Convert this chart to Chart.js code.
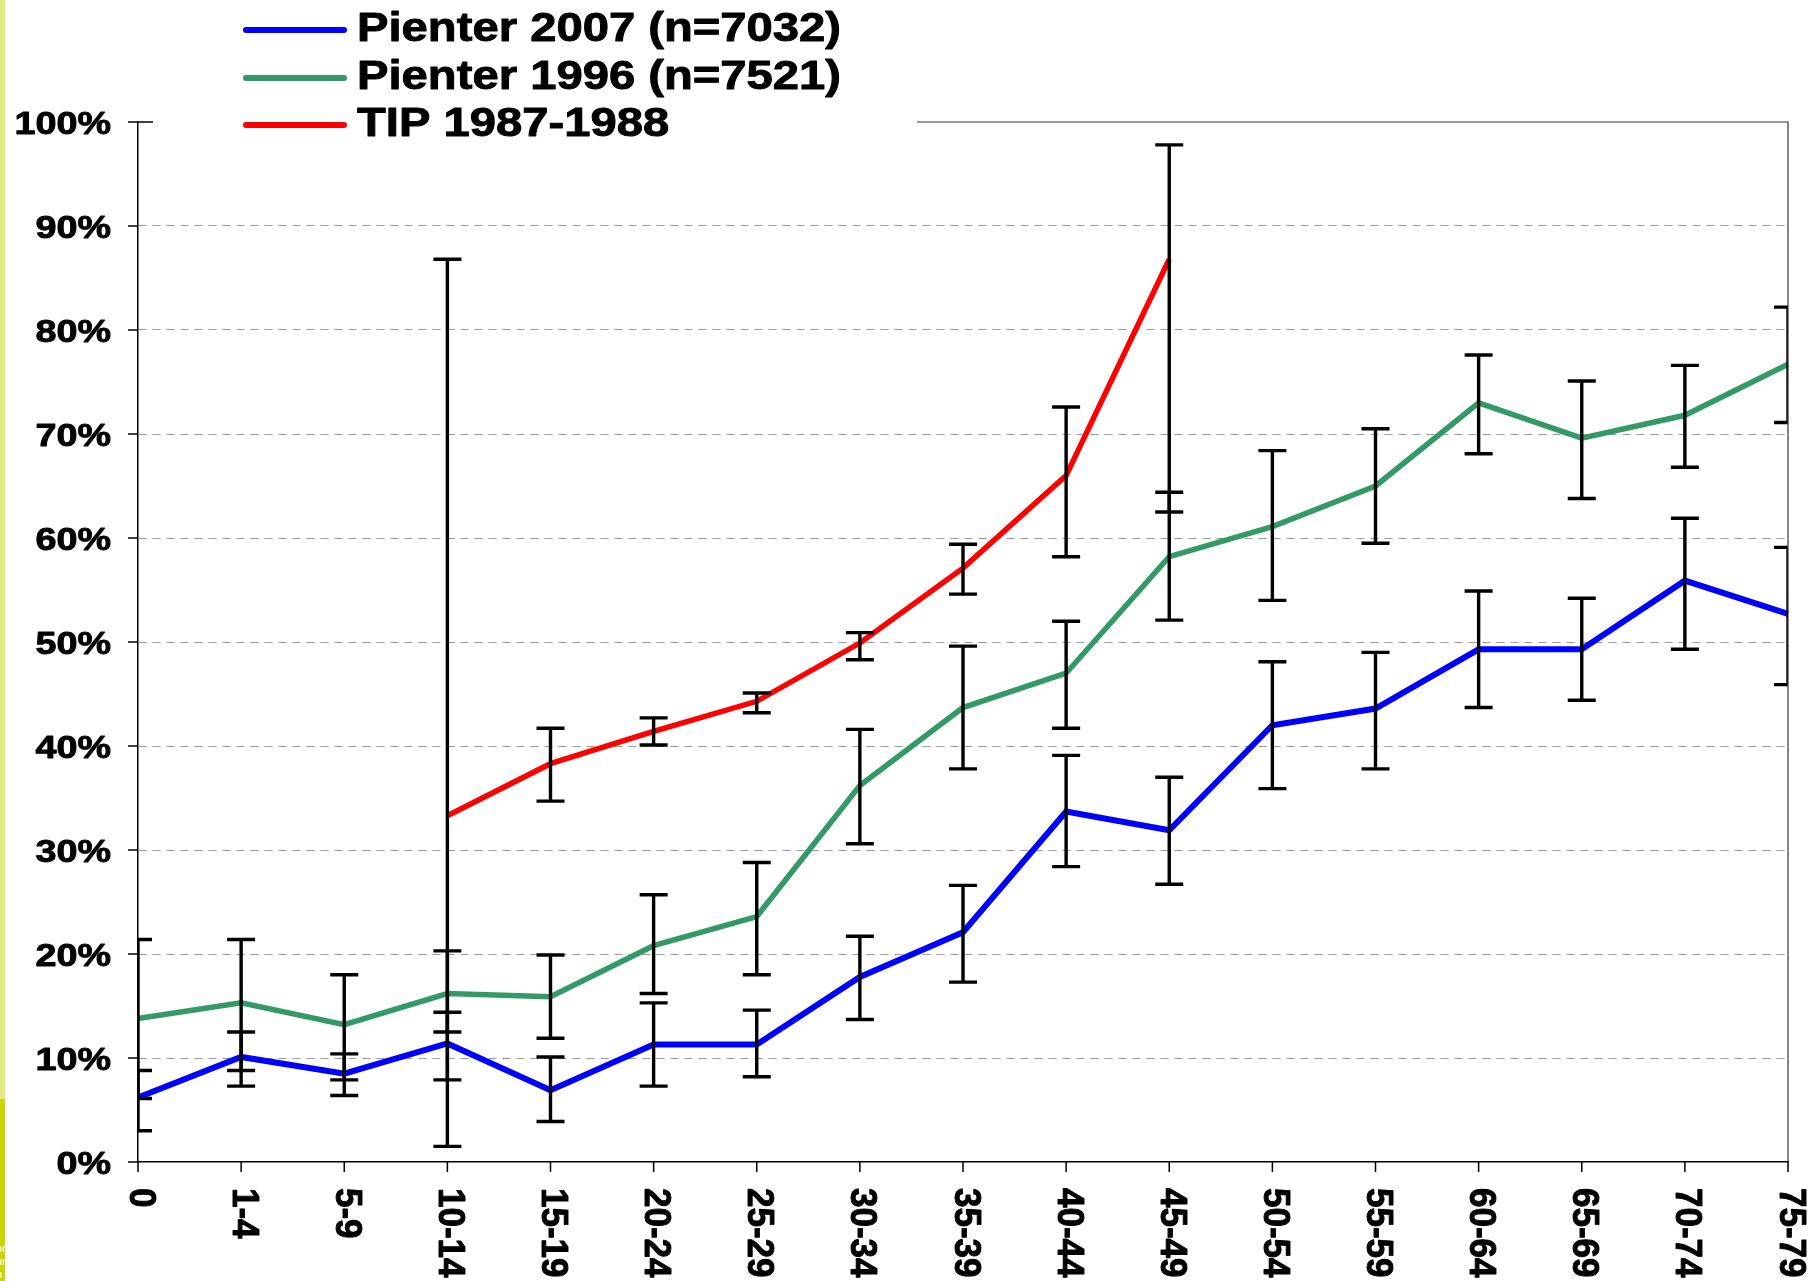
<!DOCTYPE html>
<html>
<head>
<meta charset="utf-8">
<title>Pienter 2007 / Pienter 1996 / TIP 1987-1988</title>
<script src="https://cdn.jsdelivr.net/npm/chart.js@4/dist/chart.umd.min.js"></script>
<style>
    html, body { margin: 0; padding: 0; background: #fff; }
    #wrap { position: relative; width: 1809px; height: 1281px; overflow: hidden; }
</style>
</head>
<body>
<div id="wrap"><canvas id="chart" width="1809" height="1281"></canvas></div>
<script>
// Age groups (x axis) and y ticks in percent
const ageGroups = ['0', '1-4', '5-9', '10-14', '15-19', '20-24', '25-29', '30-34', '35-39',
    '40-44', '45-49', '50-54', '55-59', '60-64', '65-69', '70-74', '75-79'];
const yTicks = [0, 10, 20, 30, 40, 50, 60, 70, 80, 90, 100];

// Pienter 2007 (n=7032)
const pienter2007 = [6.2, 10.1, 8.5, 11.4, 6.9, 11.3, 11.3, 17.8, 22.1, 33.7, 31.9, 42.0, 43.6, 49.3, 49.3, 55.9, 52.7];
const pienter2007Low = [3.0, 7.3, 6.4, 7.9, 3.9, 7.3, 8.2, 13.7, 17.3, 28.4, 26.7, 35.9, 37.8, 43.7, 44.4, 49.3, 45.9];
const pienter2007High = [8.8, 12.5, 10.4, 14.4, 10.1, 15.3, 14.6, 21.7, 26.6, 39.1, 37.0, 48.1, 49.0, 54.9, 54.2, 61.9, 59.1];

// Pienter 1996 (n=7521)
const pienter1996 = [13.8, 15.3, 13.2, 16.2, 15.9, 20.8, 23.6, 36.2, 43.7, 47.0, 58.2, 61.1, 65.0, 73.0, 69.6, 71.8, 76.7];
const pienter1996Low = [6.1, 8.8, 7.9, 12.5, 11.9, 16.2, 18.0, 30.6, 37.8, 41.7, 52.1, 54.0, 59.5, 68.1, 63.8, 66.8, 71.1];
const pienter1996High = [21.4, 21.4, 18.0, 20.3, 19.9, 25.7, 28.8, 41.6, 49.6, 52.0, 64.4, 68.4, 70.5, 77.6, 75.1, 76.6, 82.2];

// TIP 1987-1988
const tip = [null, null, null, 33.3, 38.3, 41.4, 44.3, 49.9, 57.1, 66.0, 86.8, null, null, null, null, null, null];
const tipLow = [null, null, null, 1.5, 34.7, 40.1, 43.2, 48.3, 54.6, 58.2, 62.5, null, null, null, null, null, null];
const tipHigh = [null, null, null, 86.8, 41.7, 42.7, 45.1, 50.9, 59.4, 72.6, 97.8, null, null, null, null, null, null];

const errorBars = [
    { low: pienter2007Low, high: pienter2007High },
    { low: pienter1996Low, high: pienter1996High },
    { low: tipLow, high: tipHigh }
];

const FONT = '"Liberation Sans", Arial, sans-serif';
const STRETCH = 1.18; // text in the picture is a bit wider than Arial

// bold text with a thin outline so it reads as heavy as the original
function heavyText(ctx, text, x, y, sx, sy, rot) {
    ctx.save();
    ctx.translate(x, y);
    if (rot) ctx.rotate(rot);
    ctx.scale(sx, sy);
    ctx.fillStyle = '#000';
    ctx.strokeStyle = '#000';
    ctx.lineWidth = 0.9;
    ctx.lineJoin = 'round';
    ctx.fillText(text, 0, 0);
    ctx.strokeText(text, 0, 0);
    ctx.restore();
}

// Error bars, drawn on top of the lines and clipped to the plot area
const errorBarPlugin = {
    id: 'errorBars',
    afterDatasetsDraw(chart) {
        const { ctx, chartArea, scales: { x, y } } = chart;
        ctx.save();
        ctx.beginPath();
        ctx.rect(chartArea.left, chartArea.top - 20, chartArea.right - chartArea.left, chartArea.bottom - chartArea.top + 20);
        ctx.clip();
        ctx.strokeStyle = '#000';
        ctx.lineWidth = 3.4;
        ctx.lineCap = 'butt';
        errorBars.forEach((eb, i) => {
            if (!chart.isDatasetVisible(i)) return;
            eb.low.forEach((lo, j) => {
                const hi = eb.high[j];
                if (lo === null || hi === null) return;
                const px = x.getPixelForValue(j);
                const yl = y.getPixelForValue(lo);
                const yh = y.getPixelForValue(hi);
                ctx.beginPath();
                ctx.moveTo(px, yl);
                ctx.lineTo(px, yh);
                ctx.moveTo(px - 14, yl);
                ctx.lineTo(px + 14, yl);
                ctx.moveTo(px - 14, yh);
                ctx.lineTo(px + 14, yh);
                ctx.stroke();
            });
        });
        ctx.restore();
    }
};

// Axes decorations, tick labels, legend and the side stripe
const decorPlugin = {
    id: 'decor',
    afterDraw(chart) {
        const { ctx, chartArea, scales: { x, y } } = chart;
        const left = chartArea.left, right = chartArea.right;
        const top = chartArea.top, bottom = chartArea.bottom;
        ctx.save();

        // frame: top (partly hidden by legend) and right
        ctx.strokeStyle = '#333';
        ctx.lineWidth = 1.2;
        ctx.beginPath();
        ctx.moveTo(917, top);
        ctx.lineTo(right, top);
        ctx.lineTo(right, bottom);
        ctx.stroke();

        // y ticks and labels
        ctx.strokeStyle = '#000';
        ctx.lineWidth = 1.5;
        ctx.font = 'bold 32px ' + FONT;
        ctx.textAlign = 'right';
        ctx.textBaseline = 'alphabetic';
        yTicks.forEach(v => {
            const py = y.getPixelForValue(v);
            ctx.strokeStyle = '#000';
            ctx.lineWidth = 1.5;
            ctx.beginPath();
            ctx.moveTo(left - 10, py);
            ctx.lineTo(v === 100 ? left + 15 : left, py);
            ctx.stroke();
            heavyText(ctx, v + '%', 111, py + 11.5, STRETCH, 1, 0);
        });

        // x ticks and rotated labels (reading downward)
        ctx.font = 'bold 35px ' + FONT;
        ctx.textAlign = 'left';
        ageGroups.forEach((lbl, i) => {
            const px = x.getPixelForValue(i);
            ctx.strokeStyle = '#000';
            ctx.lineWidth = 1.5;
            ctx.beginPath();
            ctx.moveTo(px, bottom);
            ctx.lineTo(px, bottom + 10);
            ctx.stroke();
            heavyText(ctx, lbl, px - 8.5, 1188, 1, 1.06, Math.PI / 2);
        });

        // legend
        const rowY = [30, 78, 125];
        ctx.font = 'bold 40px ' + FONT;
        chart.data.datasets.forEach((ds, i) => {
            ctx.strokeStyle = ds.borderColor;
            ctx.lineWidth = 6;
            ctx.lineCap = 'round';
            ctx.beginPath();
            ctx.moveTo(246, rowY[i]);
            ctx.lineTo(344, rowY[i]);
            ctx.stroke();
            heavyText(ctx, ds.label, 357, rowY[i] + 10.5, STRETCH, 1, 0);
        });

        // side stripe
        ctx.fillStyle = '#e2eb82';
        ctx.fillRect(0, 0, 5, 1099);
        ctx.fillStyle = '#cad500';
        ctx.fillRect(0, 1099, 5, 182);
        ctx.beginPath();
        ctx.rect(0, 1099, 5, 182);
        ctx.clip();
        ctx.fillStyle = '#fff';
        ctx.font = '11px ' + FONT;
        ctx.fillText('or', -4, 1252);
        ctx.fillText('ur', -4, 1265);
        ctx.fillText('h', -4, 1278);
        ctx.restore();
    }
};

const ctx = document.getElementById('chart');
new Chart(ctx, {
    type: 'line',
    data: {
        labels: ageGroups,
        datasets: [
            {
                label: 'Pienter 2007 (n=7032)',
                data: pienter2007,
                borderColor: '#0000ff',
                borderWidth: 6,
                pointRadius: 0,
                tension: 0
            },
            {
                label: 'Pienter 1996 (n=7521)',
                data: pienter1996,
                borderColor: '#339966',
                borderWidth: 5.5,
                pointRadius: 0,
                tension: 0
            },
            {
                label: 'TIP 1987-1988',
                data: tip,
                borderColor: '#ff0000',
                borderWidth: 5.5,
                pointRadius: 0,
                tension: 0,
                spanGaps: false
            }
        ]
    },
    options: {
        responsive: false,
        animation: false,
        events: [],
        layout: {
            padding: { left: 138, right: 21, top: 122, bottom: 119 }
        },
        plugins: {
            legend: { display: false },
            tooltip: { enabled: false }
        },
        scales: {
            x: {
                type: 'category',
                offset: false,
                ticks: { display: false },
                grid: { display: false, drawTicks: false },
                border: { display: true, color: '#000', width: 1.5 }
            },
            y: {
                min: 0,
                max: 100,
                ticks: { display: false, stepSize: 10 },
                grid: {
                    drawTicks: false,
                    lineWidth: 1,
                    color: c => (c.tick && (c.tick.value === 0 || c.tick.value === 100)) ? 'rgba(0,0,0,0)' : '#9a9a9a'
                },
                border: { display: true, color: '#000', width: 1.5, dash: [8, 6] }
            }
        }
    },
    plugins: [errorBarPlugin, decorPlugin]
});
</script>
</body>
</html>
